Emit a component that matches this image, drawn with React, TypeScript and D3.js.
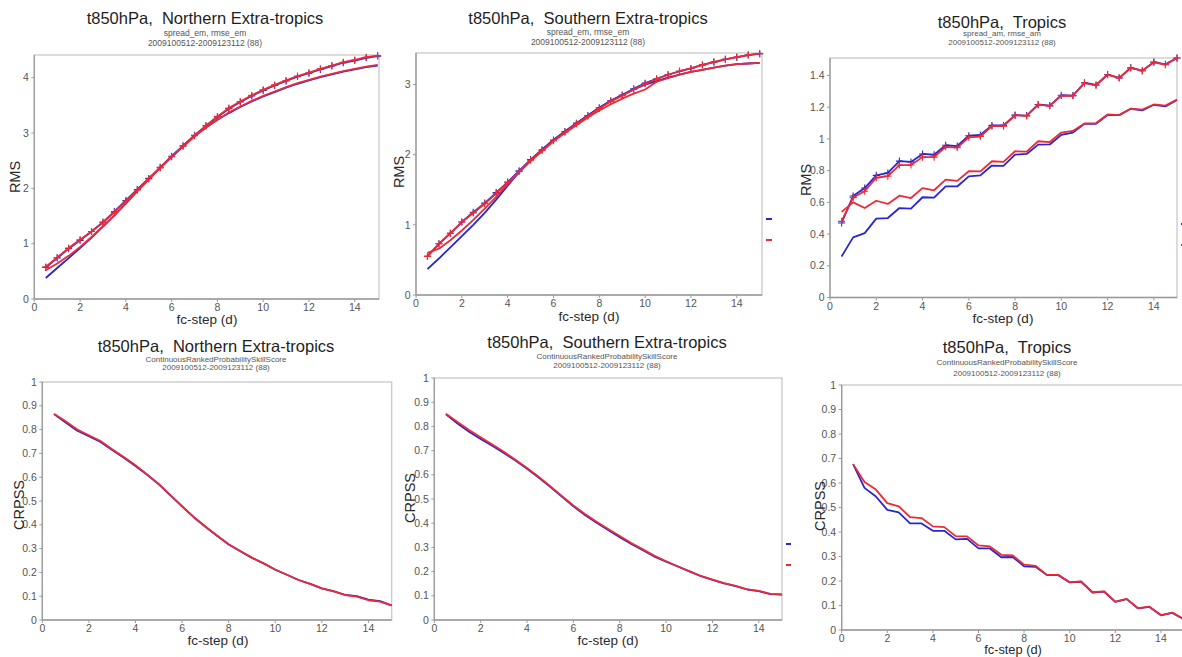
import React from "react";
import * as d3 from "d3";

// ---------- data ----------
const STEPS = [0.5, 1, 1.5, 2, 2.5, 3, 3.5, 4, 4.5, 5, 5.5, 6, 6.5, 7, 7.5, 8, 8.5, 9, 9.5, 10, 10.5, 11, 11.5, 12, 12.5, 13, 13.5, 14, 14.5, 15];
const X_TICKS = [0, 2, 4, 6, 8, 10, 12, 14];

const NH_RMSE_BLUE = [0.57, 0.74, 0.91, 1.06, 1.22, 1.39, 1.58, 1.78, 1.98, 2.18, 2.38, 2.58, 2.77, 2.96, 3.13, 3.29, 3.44, 3.56, 3.67, 3.77, 3.86, 3.94, 4.02, 4.08, 4.15, 4.21, 4.27, 4.31, 4.36, 4.39];
const NH_RMSE_RED = [0.58, 0.75, 0.92, 1.07, 1.22, 1.38, 1.57, 1.77, 1.97, 2.17, 2.37, 2.57, 2.76, 2.95, 3.13, 3.30, 3.45, 3.57, 3.68, 3.78, 3.87, 3.95, 4.03, 4.09, 4.16, 4.22, 4.28, 4.32, 4.37, 4.40];
const NH_SPREAD_BLUE = [0.38, 0.56, 0.74, 0.92, 1.11, 1.31, 1.51, 1.73, 1.95, 2.16, 2.37, 2.57, 2.76, 2.94, 3.10, 3.24, 3.36, 3.47, 3.57, 3.66, 3.74, 3.82, 3.89, 3.95, 4.01, 4.06, 4.11, 4.15, 4.19, 4.22];
const NH_SPREAD_RED = [0.52, 0.64, 0.78, 0.94, 1.12, 1.31, 1.51, 1.73, 1.95, 2.16, 2.37, 2.57, 2.76, 2.94, 3.10, 3.24, 3.37, 3.48, 3.58, 3.67, 3.75, 3.83, 3.90, 3.96, 4.02, 4.07, 4.12, 4.16, 4.20, 4.23];

const SH_RMSE_BLUE = [0.55, 0.73, 0.88, 1.04, 1.18, 1.31, 1.46, 1.61, 1.77, 1.93, 2.07, 2.21, 2.33, 2.45, 2.56, 2.67, 2.77, 2.85, 2.94, 3.02, 3.08, 3.14, 3.19, 3.23, 3.28, 3.32, 3.36, 3.39, 3.42, 3.44];
const SH_RMSE_RED = [0.55, 0.73, 0.88, 1.04, 1.17, 1.30, 1.45, 1.60, 1.76, 1.92, 2.06, 2.20, 2.32, 2.44, 2.55, 2.66, 2.76, 2.84, 2.93, 3.01, 3.08, 3.14, 3.19, 3.23, 3.28, 3.32, 3.36, 3.39, 3.42, 3.44];
const SH_SPREAD_BLUE = [0.37, 0.52, 0.68, 0.84, 1.00, 1.17, 1.36, 1.56, 1.75, 1.92, 2.07, 2.21, 2.33, 2.45, 2.56, 2.67, 2.77, 2.85, 2.93, 3.00, 3.05, 3.10, 3.14, 3.18, 3.21, 3.24, 3.27, 3.29, 3.30, 3.31];
const SH_SPREAD_RED = [0.60, 0.66, 0.78, 0.92, 1.07, 1.23, 1.40, 1.58, 1.75, 1.91, 2.05, 2.19, 2.31, 2.42, 2.53, 2.63, 2.72, 2.80, 2.87, 2.93, 3.04, 3.09, 3.14, 3.18, 3.21, 3.24, 3.27, 3.29, 3.30, 3.31];

const TR_RMSE_BLUE = [0.47, 0.64, 0.69, 0.77, 0.785, 0.86, 0.855, 0.905, 0.90, 0.96, 0.955, 1.02, 1.025, 1.085, 1.085, 1.15, 1.147, 1.217, 1.21, 1.275, 1.273, 1.354, 1.34, 1.406, 1.385, 1.448, 1.43, 1.484, 1.47, 1.51];
const TR_RMSE_RED = [0.48, 0.63, 0.67, 0.755, 0.765, 0.835, 0.835, 0.885, 0.885, 0.95, 0.945, 1.01, 1.015, 1.08, 1.08, 1.148, 1.145, 1.215, 1.208, 1.273, 1.272, 1.352, 1.338, 1.404, 1.384, 1.447, 1.43, 1.483, 1.468, 1.51];
const TR_SPREAD_BLUE = [0.259, 0.379, 0.406, 0.497, 0.501, 0.564, 0.56, 0.632, 0.63, 0.701, 0.70, 0.764, 0.77, 0.832, 0.83, 0.901, 0.905, 0.964, 0.965, 1.025, 1.04, 1.095, 1.095, 1.15, 1.15, 1.19, 1.18, 1.215, 1.205, 1.245];
const TR_SPREAD_RED = [0.54, 0.60, 0.564, 0.61, 0.59, 0.642, 0.627, 0.69, 0.676, 0.743, 0.735, 0.796, 0.795, 0.859, 0.855, 0.922, 0.92, 0.985, 0.98, 1.04, 1.05, 1.097, 1.10, 1.154, 1.15, 1.19, 1.185, 1.217, 1.21, 1.248];

const NH_CRPSS_BLUE = [0.865, 0.83, 0.795, 0.772, 0.748, 0.714, 0.682, 0.647, 0.61, 0.57, 0.524, 0.477, 0.432, 0.392, 0.354, 0.317, 0.289, 0.261, 0.238, 0.211, 0.19, 0.168, 0.152, 0.133, 0.121, 0.106, 0.10, 0.086, 0.079, 0.062];
const NH_CRPSS_RED = [0.867, 0.835, 0.80, 0.776, 0.752, 0.717, 0.685, 0.65, 0.612, 0.572, 0.525, 0.478, 0.433, 0.393, 0.355, 0.318, 0.29, 0.262, 0.238, 0.212, 0.19, 0.168, 0.152, 0.133, 0.12, 0.105, 0.098, 0.083, 0.077, 0.06];
const SH_CRPSS_BLUE = [0.85, 0.812, 0.778, 0.748, 0.72, 0.69, 0.659, 0.625, 0.589, 0.55, 0.51, 0.47, 0.434, 0.402, 0.372, 0.342, 0.314, 0.288, 0.262, 0.241, 0.221, 0.201, 0.181, 0.166, 0.151, 0.14, 0.126, 0.119, 0.107, 0.105];
const SH_CRPSS_RED = [0.852, 0.818, 0.785, 0.755, 0.725, 0.695, 0.662, 0.628, 0.592, 0.553, 0.513, 0.473, 0.438, 0.406, 0.376, 0.347, 0.318, 0.292, 0.265, 0.243, 0.222, 0.202, 0.182, 0.167, 0.152, 0.141, 0.127, 0.12, 0.108, 0.106];
const TR_CRPSS_BLUE = [0.677, 0.58, 0.545, 0.49, 0.48, 0.435, 0.435, 0.405, 0.405, 0.37, 0.372, 0.333, 0.333, 0.297, 0.298, 0.26, 0.258, 0.224, 0.224, 0.194, 0.197, 0.153, 0.157, 0.115, 0.126, 0.088, 0.094, 0.06, 0.07, 0.044];
const TR_CRPSS_RED = [0.677, 0.604, 0.573, 0.518, 0.505, 0.461, 0.457, 0.423, 0.42, 0.383, 0.382, 0.345, 0.341, 0.307, 0.304, 0.267, 0.262, 0.225, 0.225, 0.195, 0.198, 0.154, 0.158, 0.116, 0.127, 0.089, 0.095, 0.061, 0.071, 0.045];

const TICKS_NH_RMS = [0, 1, 2, 3, 4];
const TICKS_SH_RMS = [0, 1, 2, 3];
const TICKS_TR_RMS = [0, 0.2, 0.4, 0.6, 0.8, 1, 1.2, 1.4];
const TICKS_CRPSS = [0, 0.1, 0.2, 0.3, 0.4, 0.5, 0.6, 0.7, 0.8, 0.9, 1];

const TITLES = ["t850hPa,  Northern Extra-tropics", "t850hPa,  Southern Extra-tropics", "t850hPa,  Tropics"];
const SUB_RMS = ["spread_em, rmse_em", "spread_em, rmse_em", "spread_am, rmse_am"];
const SUB_CRPSS = "ContinuousRankedProbabilitySkillScore";
const PERIOD = "2009100512-2009123112 (88)";

// ---------- styles ----------
const BLUE = "#2626d2";
const RED = "#ec2a35";
const FONT = "'Liberation Sans', Arial, Helvetica, sans-serif";

type Line = { values: number[]; color: string; marker: boolean };

type Panel = {
  title: string;
  sub1: string;
  ylabel: string;
  yTicks: number[];
  yMax: number;
  lines: Line[];
  lay: {
    clip: [number, number, number, number];
    x0: number; x1: number; xMax: number;
    yTop: number; yBot: number;
    titleX: number; titleY: number; sub1Y: number; sub2Y: number; subSize: number;
    ylabX: number; ylabY: number; xlabX: number; xlabY: number; xlabSize: number;
  };
};

const panels: Panel[] = [
  {
    title: TITLES[0], sub1: SUB_RMS[0], ylabel: "RMS", yTicks: TICKS_NH_RMS, yMax: 4.41,
    lines: [
      { values: NH_SPREAD_BLUE, color: BLUE, marker: false },
      { values: NH_RMSE_BLUE, color: BLUE, marker: true },
      { values: NH_SPREAD_RED, color: RED, marker: false },
      { values: NH_RMSE_RED, color: RED, marker: true },
    ],
    lay: { clip: [0, 0, 382, 330], x0: 34.3, x1: 379, xMax: 15.06, yTop: 55, yBot: 299, titleX: 205, titleY: 24, sub1Y: 36, sub2Y: 46, subSize: 8.5, ylabX: 20, ylabY: 177, xlabX: 207, xlabY: 324, xlabSize: 13.5 },
  },
  {
    title: TITLES[1], sub1: SUB_RMS[1], ylabel: "RMS", yTicks: TICKS_SH_RMS, yMax: 3.45,
    lines: [
      { values: SH_SPREAD_BLUE, color: BLUE, marker: false },
      { values: SH_RMSE_BLUE, color: BLUE, marker: true },
      { values: SH_SPREAD_RED, color: RED, marker: false },
      { values: SH_RMSE_RED, color: RED, marker: true },
    ],
    lay: { clip: [382, 0, 393, 330], x0: 416, x1: 762, xMax: 15.1, yTop: 53, yBot: 295, titleX: 588, titleY: 24, sub1Y: 35, sub2Y: 45, subSize: 8.5, ylabX: 404, ylabY: 172, xlabX: 589, xlabY: 321, xlabSize: 13.5 },
  },
  {
    title: TITLES[2], sub1: SUB_RMS[2], ylabel: "RMS", yTicks: TICKS_TR_RMS, yMax: 1.51,
    lines: [
      { values: TR_SPREAD_BLUE, color: BLUE, marker: false },
      { values: TR_RMSE_BLUE, color: BLUE, marker: true },
      { values: TR_SPREAD_RED, color: RED, marker: false },
      { values: TR_RMSE_RED, color: RED, marker: true },
    ],
    lay: { clip: [775, 0, 407, 330], x0: 830, x1: 1177, xMax: 15, yTop: 58, yBot: 297.5, titleX: 1002, titleY: 28, sub1Y: 36, sub2Y: 45, subSize: 8, ylabX: 811, ylabY: 180, xlabX: 1003, xlabY: 323, xlabSize: 13.5 },
  },
  {
    title: TITLES[0], sub1: SUB_CRPSS, ylabel: "CRPSS", yTicks: TICKS_CRPSS, yMax: 1,
    lines: [
      { values: NH_CRPSS_BLUE, color: BLUE, marker: false },
      { values: NH_CRPSS_RED, color: RED, marker: false },
    ],
    lay: { clip: [0, 330, 394, 327], x0: 42.3, x1: 391.7, xMax: 15, yTop: 382, yBot: 620, titleX: 216, titleY: 352, sub1Y: 361.5, sub2Y: 369.5, subSize: 8, ylabX: 24, ylabY: 505, xlabX: 218, xlabY: 645, xlabSize: 13.5 },
  },
  {
    title: TITLES[1], sub1: SUB_CRPSS, ylabel: "CRPSS", yTicks: TICKS_CRPSS, yMax: 1,
    lines: [
      { values: SH_CRPSS_BLUE, color: BLUE, marker: false },
      { values: SH_CRPSS_RED, color: RED, marker: false },
    ],
    lay: { clip: [394, 330, 397, 327], x0: 434.3, x1: 782, xMax: 15, yTop: 378, yBot: 620, titleX: 607, titleY: 347.5, sub1Y: 358.5, sub2Y: 367.5, subSize: 8, ylabX: 415, ylabY: 498, xlabX: 608, xlabY: 645, xlabSize: 13.5 },
  },
  {
    title: TITLES[2], sub1: SUB_CRPSS, ylabel: "CRPSS", yTicks: TICKS_CRPSS, yMax: 1,
    lines: [
      { values: TR_CRPSS_BLUE, color: BLUE, marker: false },
      { values: TR_CRPSS_RED, color: RED, marker: false },
    ],
    lay: { clip: [791, 330, 391, 327], x0: 841.7, x1: 1183.7, xMax: 15, yTop: 385, yBot: 630, titleX: 1007, titleY: 352.5, sub1Y: 364.5, sub2Y: 375.5, subSize: 8, ylabX: 825, ylabY: 506, xlabX: 1013, xlabY: 654, xlabSize: 12.8 },
  },
];

function fmt(v: number): string {
  return String(Math.round(v * 100) / 100);
}

function PanelView({ p, idx }: { p: Panel; idx: number }) {
  const L = p.lay;
  const x = d3.scaleLinear().domain([0, L.xMax]).range([L.x0, L.x1]);
  const y = d3.scaleLinear().domain([0, p.yMax]).range([L.yBot, L.yTop]);
  const lineGen = d3
    .line<number>()
    .x((_, i) => x(STEPS[i]))
    .y((v) => y(v));
  const clipId = `clip-${idx}`;
  const legendColors = [BLUE, RED];
  return (
    <g clipPath={`url(#${clipId})`}>
      <defs>
        <clipPath id={clipId}>
          <rect x={L.clip[0]} y={L.clip[1]} width={L.clip[2]} height={L.clip[3]} />
        </clipPath>
      </defs>
      {/* titles */}
      <text x={L.titleX} y={L.titleY} textAnchor="middle" fontSize={16.5} fill="#1e1e1e" fontFamily={FONT} style={{ whiteSpace: "pre" }}>
        {p.title}
      </text>
      <text x={L.titleX} y={L.sub1Y} textAnchor="middle" fontSize={L.subSize} fill="#555" fontFamily={FONT}>
        {p.sub1}
      </text>
      <text x={L.titleX} y={L.sub2Y} textAnchor="middle" fontSize={L.subSize} fill="#555" fontFamily={FONT}>
        {PERIOD}
      </text>
      {/* frame */}
      <rect x={L.x0} y={L.yTop} width={L.x1 - L.x0} height={L.yBot - L.yTop} fill="white" stroke="#c9c9c9" strokeWidth={1.3} />
      <line x1={L.x0} x2={L.x0} y1={L.yTop} y2={L.yBot} stroke="#9a9a9a" strokeWidth={1.3} />
      <line x1={L.x0} x2={L.x1} y1={L.yBot} y2={L.yBot} stroke="#9a9a9a" strokeWidth={1.3} />
      {/* y ticks */}
      {p.yTicks.map((t) => (
        <g key={`y${t}`}>
          <line x1={L.x0 - 3} x2={L.x0} y1={y(t)} y2={y(t)} stroke="#9a9a9a" strokeWidth={1} />
          <text x={L.x0 - 5.5} y={y(t)} dy="0.35em" textAnchor="end" fontSize={10.5} fill="#555" fontFamily={FONT}>
            {fmt(t)}
          </text>
        </g>
      ))}
      {/* x ticks */}
      {X_TICKS.map((t) => (
        <g key={`x${t}`}>
          <line x1={x(t)} x2={x(t)} y1={L.yBot} y2={L.yBot + 3} stroke="#9a9a9a" strokeWidth={1} />
          <text x={x(t)} y={L.yBot + 12} textAnchor="middle" fontSize={10.5} fill="#555" fontFamily={FONT}>
            {fmt(t)}
          </text>
        </g>
      ))}
      {/* axis labels */}
      <text transform={`translate(${L.ylabX},${L.ylabY}) rotate(-90)`} textAnchor="middle" fontSize={14.5} fill="#2a2a2a" fontFamily={FONT}>
        {p.ylabel}
      </text>
      <text x={L.xlabX} y={L.xlabY} textAnchor="middle" fontSize={L.xlabSize} fill="#2a2a2a" fontFamily={FONT}>
        fc-step (d)
      </text>
      {/* lines */}
      {p.lines.map((l, i) => (
        <g key={`l${i}`}>
          <path d={lineGen(l.values) || ""} fill="none" stroke={l.color} strokeWidth={1.8} strokeLinejoin="round" />
          {l.marker &&
            l.values.map((v, j) => (
              <path
                key={j}
                d={`M${x(STEPS[j]) - 3.5},${y(v)}H${x(STEPS[j]) + 3.5}M${x(STEPS[j])},${y(v) - 3.5}V${y(v) + 3.5}`}
                stroke={l.color}
                strokeWidth={1.1}
                fill="none"
              />
            ))}
        </g>
      ))}
      {/* legend (mostly outside the visible sub-image) */}
      {legendColors.map((c, i) => (
        <line key={`lg${i}`} x1={L.x1 + 4} x2={L.x1 + 10} y1={L.yTop + 166 + i * 21} y2={L.yTop + 166 + i * 21} stroke={c} strokeWidth={2} />
      ))}
    </g>
  );
}

export default function App() {
  return (
    <svg
      width={1182}
      height={657}
      viewBox="0 0 1182 657"
      style={{ position: "absolute", left: 0, top: 0, background: "white" }}
    >
      <rect x={0} y={0} width={1182} height={657} fill="white" />
      {panels.map((p, i) => (
        <PanelView key={i} p={p} idx={i} />
      ))}
    </svg>
  );
}
